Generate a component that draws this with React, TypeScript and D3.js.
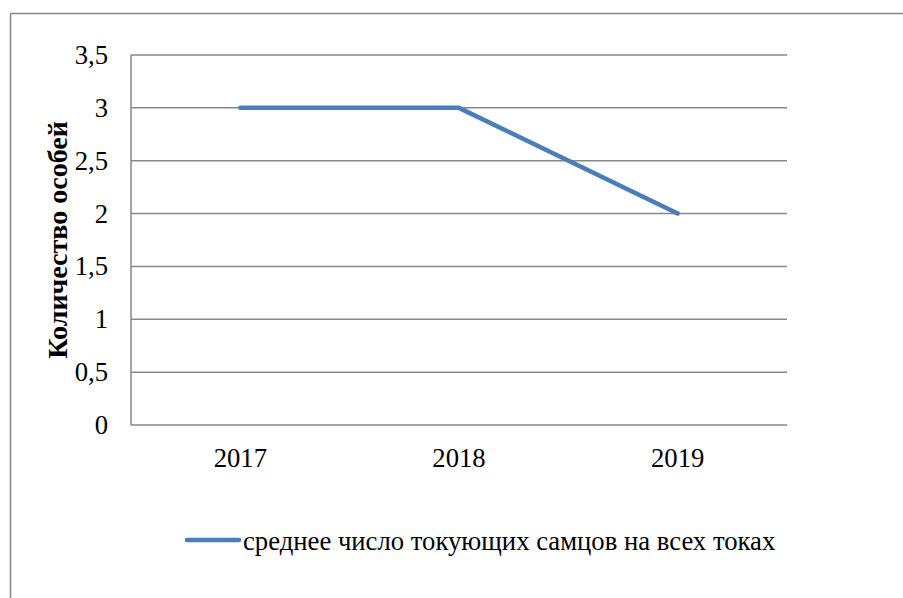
import React from "react";
import * as d3 from "d3";

const categories = ["2017", "2018", "2019"];
const values = [3, 3, 2];
const yTicks = [0, 0.5, 1, 1.5, 2, 2.5, 3, 3.5];
const seriesName = "среднее число токующих самцов на всех токах";
const yTitle = "Количество особей";

const font = "\"Liberation Serif\", \"Times New Roman\", \"DejaVu Serif\", serif";
const txt: React.CSSProperties = { fontFamily: font, fontSize: "26.7px" };

export default function App() {
  const W = 903, H = 598;
  const left = 131, right = 787, top = 55, bottom = 425;
  const x = d3.scaleBand().domain(categories).range([left, right]);
  const y = d3.scaleLinear().domain([0, 3.5]).range([bottom, top]);
  const line = d3.line<number>()
    .x((_, i) => (x(categories[i]) as number) + x.bandwidth() / 2)
    .y((d) => y(d));
  return (
    <svg width={W} height={H} style={{ position: "absolute", left: 0, top: 0 }}>
      <rect x={0} y={0} width={W} height={H} fill="#fff" />
      <line x1={10.5} y1={13.5} x2={903} y2={13.5} stroke="#888" strokeWidth={1.5} />
      <line x1={10.5} y1={13.5} x2={10.5} y2={598} stroke="#888" strokeWidth={1.5} />
      {yTicks.map((t) => (
        <g key={t}>
          {t > 0 && (
            <line x1={left} x2={right} y1={y(t)} y2={y(t)} stroke="#878787" strokeWidth={1.5} />
          )}
          <text x={108} y={y(t) + 9} textAnchor="end" style={txt} fill="#000">
            {String(t).replace(".", ",")}
          </text>
        </g>
      ))}
      <line x1={left} x2={left} y1={top} y2={bottom} stroke="#878787" strokeWidth={1.5} />
      <line x1={left} x2={right} y1={bottom} y2={bottom} stroke="#878787" strokeWidth={1.5} />
      {categories.map((c) => (
        <text key={c} x={(x(c) as number) + x.bandwidth() / 2} y={467} textAnchor="middle" style={txt} fill="#000">
          {c}
        </text>
      ))}
      <text transform={`translate(67,${240}) rotate(-90)`} textAnchor="middle" style={{ ...txt, fontSize: "28px", fontWeight: "bold" }} fill="#000">
        {yTitle}
      </text>
      <path d={line(values) || ""} fill="none" stroke="#4a7ebb" strokeWidth={4.5} strokeLinejoin="round" strokeLinecap="round" />
      <line x1={187} x2={239} y1={540} y2={540} stroke="#4a7ebb" strokeWidth={4.5} strokeLinecap="round" />
      <text x={243} y={550} style={txt} fill="#000">{seriesName}</text>
    </svg>
  );
}
